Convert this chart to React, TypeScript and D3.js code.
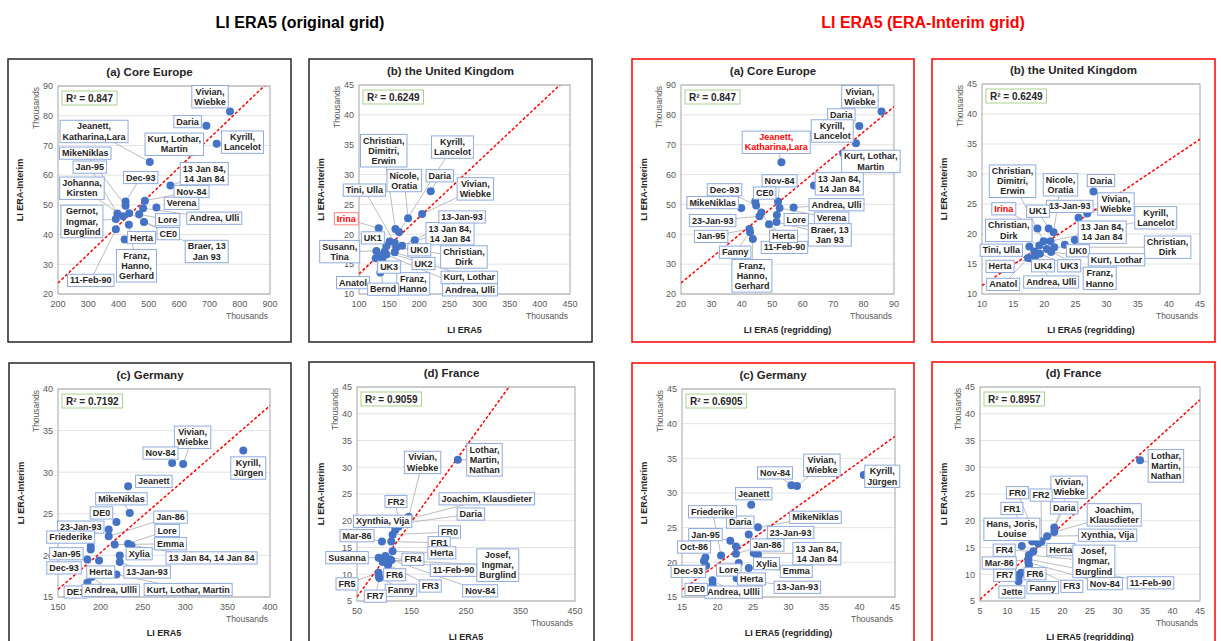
import React from "react";
import * as d3 from "d3";

const FONT = '"Liberation Sans", Arial, sans-serif';

// (a) Core Europe - LI ERA5 original grid (x) vs LI ERA-Interim (y), thousands
const coreX = [768, 690, 724, 638, 503, 571, 487, 423, 423, 396, 415, 391, 525, 481, 468, 435, 484, 420, 434, 391];
const coreY = [81.4, 76.6, 70.6, 67.6, 64.4, 56.5, 51.4, 51.1, 49.7, 47.1, 46.2, 45.2, 49.1, 48.9, 46.8, 47.2, 44.2, 38.3, 43.3, 41.8];
const coreNames = ["Vivian,\nWiebke", "Daria", "Kyrill,\nLancelot", "Kurt, Lothar,\nMartin", "Jeanett,\nKatharina,Lara", "13 Jan 84,\n14 Jan 84", "Nov-84", "Dec-93", "MikeNiklas", "Jan-95", "Johanna,\nKirsten", "Gernot,\nIngmar,\nBurglind", "Verena", "Andrea, Ulli", "Lore", "CE0", "Braer, 13\nJan 93", "Herta", "Franz,\nHanno,\nGerhard", "11-Feb-90"];
const coreLabelAt = [[702, 86.4], [628, 78.0], [809, 71.1], [584, 70.4], [319, 74.7], [683, 60.5], [641, 54.5], [473, 59.2], [290, 67.4], [305, 62.7], [279, 55.6], [279, 44.4], [608, 50.5], [716, 45.5], [562, 45.0], [564, 40.3], [691, 34.3], [476, 39.0], [459, 29.5], [308, 24.6]];
const coreLabelFor = coreNames.map((_, i) => i);

// (b) United Kingdom - original grid
const ukX = [219, 204.7, 181.4, 132.7, 160.4, 166.4, 192.5, 150.9, 159.2, 171.4, 161.8, 145.4, 128.8, 142.6, 159.2, 145.4, 127.7, 138.8, 135.4, 134];
const ukY = [27.2, 23.4, 22.7, 21.0, 20.9, 20.4, 19.0, 18.8, 18.6, 18.1, 17.8, 18.0, 17.2, 17.1, 17.0, 16.6, 16.0, 15.9, 13.6, 16.4];
const ukNames = ["Daria", "Vivian,\nWiebke", "Nicole,\nOratia", "Irina", "Christian,\nDimitri,\nErwin", "Kyrill,\nLancelot", "13 Jan 84,\n14 Jan 84", "UK1", "Tini, Ulla", "13-Jan-93", "UK0", "Christian,\nDirk", "Susann,\nTina", "UK2", "Kurt, Lothar", "Andrea, Ulli", "Anatol", "Franz,\nHanno", "UK3", "Bernd"];
const ukLabelAt = [[234, 29.8], [293, 27.6], [175, 29.0], [79, 22.6], [141, 34.0], [255, 34.6], [251, 20.1], [123, 19.4], [109, 27.4], [271, 22.9], [200, 17.4], [274, 16.2], [68, 17.1], [207, 15.1], [283, 12.8], [284, 10.7], [90, 11.9], [190, 11.7], [150, 14.5], [140, 10.8]];
const ukLabelFor = ukNames.map((_, i) => i);

// (a) Core Europe - regridded
const coreRX = [85.9, 78.6, 77.5, 73.3, 53.0, 63.7, 51.9, 44.4, 44.7, 39.8, 52.4, 57.0, 45.8, 46.4, 51.5, 51.4, 48.9, 42.5, 42.7, 43.6];
const coreRY = [81.1, 76.3, 70.5, 67.1, 64.1, 56.3, 51.0, 51.0, 49.6, 48.8, 48.8, 49.0, 46.0, 47.3, 46.5, 44.1, 43.4, 41.8, 40.7, 38.4];
const coreRNames = ["Vivian,\nWiebke", "Daria", "Kyrill,\nLancelot", "Kurt, Lothar,\nMartin", "Jeanett,\nKatharina,Lara", "13 Jan 84,\n14 Jan 84", "Nov-84", "CE0", "Dec-93", "MikeNiklas", "Verena", "Andrea, Ulli", "23-Jan-93", "11-Feb-90", "Lore", "Braer, 13\nJan 93", "Herta", "Jan-95", "Fanny", "Franz,\nHanno,\nGerhard"];
const coreRLabelAt = [[78.8, 86.1], [72.7, 80.0], [69.7, 74.6], [82.4, 64.4], [51.3, 70.8], [72.0, 56.9], [52.4, 57.9], [47.5, 53.8], [34.3, 54.9], [30.4, 50.6], [69.5, 45.4], [71.1, 49.9], [30.4, 44.6], [54.0, 35.6], [57.9, 44.9], [68.9, 39.8], [53.7, 39.3], [29.9, 39.3], [37.8, 34.0], [43.3, 26.1]];
const coreRLabelFor = coreRNames.map((_, i) => i);

// (b) United Kingdom - regridded
const ukRX = [27.9, 26.9, 25.5, 18.9, 20.7, 21.5, 24.9, 19.9, 21.0, 23.3, 21.6, 19.2, 17.6, 18.4, 21.1, 19.3, 17.4, 17.9, 20.4, 18.6];
const ukRY = [27.1, 23.4, 22.7, 20.9, 20.9, 20.3, 19.0, 18.8, 18.8, 18.2, 17.8, 18.1, 17.9, 17.1, 17.0, 16.7, 16.0, 15.9, 17.5, 16.4];
const ukRNames = ["Daria", "Vivian,\nWiebke", "13-Jan-93", "Irina", "UK1", "Nicole,\nOratia", "13 Jan 84,\n14 Jan 84", "Christian,\nDimitri,\nErwin", "Kyrill,\nLancelot", "UK0", "Christian,\nDirk", "Christian,\nDirk", "Tini, Ulla", "UK4", "Kurt, Lothar", "UK3", "Anatol", "Herta", "Franz,\nHanno", "Andrea, Ulli"];
const ukRLabelAt = [[29.1, 28.9], [31.5, 25.0], [24.1, 24.6], [13.5, 24.2], [19.0, 23.8], [22.6, 28.2], [29.3, 20.3], [14.9, 28.8], [37.9, 22.7], [25.4, 17.2], [39.8, 17.8], [14.3, 20.6], [13.1, 17.3], [19.8, 14.7], [31.6, 15.7], [24.0, 14.7], [13.4, 11.6], [12.9, 14.6], [28.9, 12.6], [21.1, 12.0]];
const ukRLabelFor = ukRNames.map((_, i) => i);

// (c) Germany - original grid
const deX = [368.5, 297.6, 284.6, 232.7, 234.6, 218.9, 209.8, 209.8, 188.6, 188.6, 184.6, 184.6, 232.7, 216.9, 222.8, 236.6, 198.4, 222.8, 218.9, 189.4];
const deY = [32.6, 31.0, 31.1, 28.3, 25.1, 24.0, 23.1, 22.3, 21.1, 20.7, 19.5, 16.7, 21.4, 21.3, 20.0, 21.2, 19.4, 19.2, 17.7, 17.4];
const deNames = ["Kyrill,\nJürgen", "Vivian,\nWiebke", "Nov-84", "Jeanett", "MikeNiklas", "DE0", "23-Jan-93", "Jan-86", "Friederike", "Jan-95", "Dec-93", "DE1", "Lore", "Emma", "Xylia", "13 Jan 84, 14 Jan 84", "Herta", "13-Jan-93", "Kurt, Lothar, Martin", "Andrea, Ullli"];
const deLabelAt = [[374.4, 30.5], [308.7, 34.2], [270.9, 32.3], [263.0, 28.9], [224.8, 26.8], [201.2, 25.1], [176.8, 23.4], [282.7, 24.6], [165.0, 22.2], [159.8, 20.2], [157.1, 18.5], [170.5, 15.6], [278.7, 23.0], [282.7, 21.4], [245.7, 20.2], [331.1, 19.7], [200.4, 18.0], [255.1, 18.0], [303.5, 15.9], [212.2, 15.8]];
const deLabelFor = deNames.map((_, i) => i);

// (d) France - original grid
const frX = [235.0, 144.7, 137.3, 132.4, 126.3, 120.2, 115.3, 112.9, 95.8, 115.3, 89.7, 108.0, 112.9, 101.9, 106.8, 89.7, 97.0, 89.7, 110.0, 90.9];
const frY = [31.4, 20.75, 20.1, 19.5, 18.9, 18.25, 17.4, 16.1, 16.1, 14.3, 13.1, 12.3, 12.6, 13.4, 11.7, 10.3, 12.3, 9.7, 12.8, 9.3];
const frNames = ["Lothar,\nMartin,\nNathan", "Vivian,\nWiebke", "Joachim, Klausdieter", "Daria", "FR2", "Xynthia, Vija", "FR0", "FR1", "Mar-86", "Herta", "Susanna", "FR4", "Josef,\nIngmar,\nBurglind", "11-Feb-90", "FR6", "FR5", "FR3", "Fanny", "Nov-84", "FR7"];
const frLabelAt = [[283.9, 31.4], [170.3, 30.9], [288.2, 24.1], [258.9, 21.25], [121.5, 23.6], [97.0, 19.9], [219.8, 17.9], [200.8, 15.9], [50.0, 17.2], [205.7, 14.0], [31.7, 13.1], [152.6, 12.8], [308.3, 11.7], [227.1, 10.75], [119.0, 9.9], [31.7, 8.2], [184.4, 7.8], [130.6, 7.0], [276.0, 6.9], [83.6, 5.9]];
const frLabelFor = frNames.map((_, i) => i);

// (c) Germany - regridded
const deRX = [40.6, 30.4, 31.2, 24.75, 25.7, 24.4, 21.8, 22.6, 22.6, 25.1, 25.7, 20.5, 18.3, 18.1, 18.4, 23.0, 24.4, 22.7, 19.3, 19.3];
const deRY = [32.6, 31.1, 31.0, 28.3, 25.05, 24.0, 23.1, 22.3, 21.25, 21.35, 21.1, 21.0, 20.7, 20.2, 19.5, 19.9, 19.2, 17.7, 17.4, 16.7];
const deRNames = ["Kyrill,\nJürgen", "Nov-84", "Vivian,\nWiebke", "Jeanett", "MikeNiklas", "Daria", "Jan-95", "23-Jan-93", "Jan-86", "13 Jan 84,\n14 Jan 84", "Xylia", "Friederike", "Oct-86", "Dec-93", "Lore", "Emma", "Herta", "13-Jan-93", "Andrea, Ullli", "DE0"];
const deRLabelAt = [[43.2, 32.4], [28.1, 32.9], [34.7, 34.0], [25.1, 29.9], [33.8, 26.5], [23.2, 25.8], [18.3, 24.0], [30.3, 24.3], [27.0, 22.5], [34.0, 21.25], [26.9, 19.8], [19.3, 27.3], [16.7, 22.2], [15.9, 18.7], [21.6, 18.9], [31.1, 18.7], [24.8, 17.6], [31.25, 16.4], [22.25, 15.7], [17.0, 16.1]];
const deRLabelFor = [0, 1, 2, 3, 4, 5, 6, 7, 8, 9, 10, 11, 12, 14, 15, 16, 17, 17, 18, 19];

// (d) France - regridded
const frRX = [34.1, 18.5, 18.5, 17.2, 16.2, 15.3, 14.5, 15.6, 12.6, 14.7, 13.9, 13.8, 13.8, 13.9, 12.5, 12.1, 12.0, 12.0];
const frRY = [31.3, 18.75, 17.9, 17.1, 16.1, 16.6, 16.1, 15.75, 15.3, 14.3, 13.6, 12.8, 12.2, 11.7, 10.3, 9.9, 9.3, 8.7];
const frRNames = ["Lothar,\nMartin,\nNathan", "Vivian,\nWiebke", "Daria", "Joachim,\nKlausdieter", "Xynthia, Vija", "FR0", "FR2", "FR1", "Hans, Joris,\nLouise", "Herta", "FR4", "Josef,\nIngmar,\nBurglind", "Mar-86", "FR6", "FR3", "Nov-84", "11-Feb-90", "FR7", "Fanny", "Jette"];
const frRLabelAt = [[38.8, 30.25], [21.2, 26.25], [20.3, 22.4], [29.4, 21.1], [28.2, 17.3], [11.8, 25.25], [16.1, 24.8], [10.8, 22.3], [10.8, 18.4], [19.7, 14.6], [9.4, 14.5], [25.7, 12.4], [8.5, 12.1], [15.0, 10.1], [21.7, 7.75], [27.7, 8.25], [36.0, 8.4], [9.5, 9.8], [16.4, 7.5], [10.8, 6.7]];
const frRLabelFor = [0, 1, 1, 2, 3, 5, 4, 6, 8, 7, 9, 10, 11, 12, 13, 12, 11, 14, 15, 17];

type Cfg = {
  id: string;
  title: string;
  red: boolean;
  box: number[];
  plot: number[];
  xDom: number[];
  xStep: number;
  yDom: number[];
  yStep: number;
  xTitle: string | null;
  r2: string;
  slope: number;
  intercept: number;
  xs: number[];
  ys: number[];
  names: string[];
  labelAt: number[][];
  labelFor: number[];
  redName?: string;
  redBorder?: boolean;
};

const panels: Cfg[] = [
  { id: "a", title: "(a) Core Europe", red: false, box: [8, 59, 283, 283], plot: [58, 86, 212, 208], xDom: [200, 900], xStep: 100, yDom: [20, 90], yStep: 10, xTitle: null, r2: "0.847", slope: 0.0974, intercept: 4.2, xs: coreX, ys: coreY, names: coreNames, labelAt: coreLabelAt, labelFor: coreLabelFor },
  { id: "b", title: "(b) the United Kingdom", red: false, box: [309, 59, 283, 283], plot: [359, 85, 211, 209], xDom: [100, 450], xStep: 50, yDom: [10, 45], yStep: 5, xTitle: "LI ERA5", r2: "0.6249", slope: 0.0949, intercept: 3.9, xs: ukX, ys: ukY, names: ukNames, labelAt: ukLabelAt, labelFor: ukLabelFor, redName: "Irina", redBorder: true },
  { id: "ar", title: "(a) Core Europe", red: true, box: [632, 59, 282, 283], plot: [681, 85, 213, 209], xDom: [20, 90], xStep: 10, yDom: [20, 90], yStep: 10, xTitle: "LI ERA5 (regridding)", r2: "0.847", slope: 0.843, intercept: 6.84, xs: coreRX, ys: coreRY, names: coreRNames, labelAt: coreRLabelAt, labelFor: coreRLabelFor, redName: "Jeanett,\nKatharina,Lara" },
  { id: "br", title: "(b) the United Kingdom", red: true, box: [932, 59, 283, 283], plot: [982, 84, 218, 210], xDom: [10, 45], xStep: 5, yDom: [10, 45], yStep: 5, xTitle: "LI ERA5 (regridding)", r2: "0.6249", slope: 0.697, intercept: 4.43, xs: ukRX, ys: ukRY, names: ukRNames, labelAt: ukRLabelAt, labelFor: ukRLabelFor, redName: "Irina" },
  { id: "c", title: "(c) Germany", red: false, box: [9, 363, 282, 292], plot: [58, 389, 212, 208], xDom: [150, 400], xStep: 50, yDom: [15, 40], yStep: 5, xTitle: "LI ERA5", r2: "0.7192", slope: 0.0884, intercept: 2.64, xs: deX, ys: deY, names: deNames, labelAt: deLabelAt, labelFor: deLabelFor },
  { id: "d", title: "(d) France", red: false, box: [309, 362, 285, 292], plot: [357, 387, 218, 214], xDom: [50, 450], xStep: 100, yDom: [5, 45], yStep: 5, xTitle: "LI ERA5", r2: "0.9059", slope: 0.1407, intercept: -1.28, xs: frX, ys: frY, names: frNames, labelAt: frLabelAt, labelFor: frLabelFor },
  { id: "cr", title: "(c) Germany", red: true, box: [632, 363, 282, 292], plot: [682, 389, 213, 208], xDom: [15, 45], xStep: 5, yDom: [15, 45], yStep: 5, xTitle: "LI ERA5 (regridding)", r2: "0.6905", slope: 0.737, intercept: 5.0, xs: deRX, ys: deRY, names: deRNames, labelAt: deRLabelAt, labelFor: deRLabelFor },
  { id: "dr", title: "(d) France", red: true, box: [932, 362, 283, 292], plot: [980, 387, 220, 214], xDom: [5, 45], xStep: 5, yDom: [5, 45], yStep: 5, xTitle: "LI ERA5 (regridding)", r2: "0.8957", slope: 0.9325, intercept: 0.64, xs: frRX, ys: frRY, names: frRNames, labelAt: frRLabelAt, labelFor: frRLabelFor },
];

const measureCtx = document.createElement("canvas").getContext("2d");
function textWidth(s: string, size: number, bold = true) {
  if (!measureCtx) return s.length * size * 0.55;
  measureCtx.font = `${bold ? "bold " : ""}${size}px ${FONT}`;
  return measureCtx.measureText(s).width;
}

const LBL = 9;
const LH = 10.2;

function Panel({ p }: { p: Cfg }) {
  const [bx, by, bw, bh] = p.box;
  const [px, py, pw, ph] = p.plot;
  const x = d3.scaleLinear().domain(p.xDom).range([px, px + pw]);
  const y = d3.scaleLinear().domain(p.yDom).range([py + ph, py]);
  const xTicks = d3.range(p.xDom[0], p.xDom[1] + p.xStep / 2, p.xStep);
  const yTicks = d3.range(p.yDom[0], p.yDom[1] + p.yStep / 2, p.yStep);
  const trend = d3
    .line<number>()
    .x((v) => x(v))
    .y((v) => y(p.slope * v + p.intercept))(p.xDom);

  // label boxes + leader lines from the box edge to the point
  const labels = p.names.map((name, i) => {
    const lines = name.split("\n");
    const w = d3.max(lines, (l) => textWidth(l, LBL))! + 5;
    const h = lines.length * LH + 2;
    const cx = x(p.labelAt[i][0]);
    const cy = y(p.labelAt[i][1]);
    const t = p.labelFor[i];
    const tx = x(p.xs[t]);
    const ty = y(p.ys[t]);
    const dx = tx - cx;
    const dy = ty - cy;
    const k = Math.min(dx === 0 ? Infinity : w / 2 / Math.abs(dx), dy === 0 ? Infinity : h / 2 / Math.abs(dy));
    let leader: number[] | null = null;
    if (k < 1) {
      const sx = cx + dx * k;
      const sy = cy + dy * k;
      if (Math.hypot(tx - sx, ty - sy) > 8) leader = [sx, sy, tx, ty];
    }
    const isRed = p.redName === name;
    return { name, lines, w, h, cx, cy, leader, isRed };
  });

  const r2Text = `R² = ${p.r2}`;
  const r2W = textWidth(r2Text, 10) + 8;
  const stroke = p.red ? "#ff0000" : "#262626";

  return (
    <g>
      <rect x={bx} y={by} width={bw} height={bh} fill="white" stroke={stroke} strokeWidth={1.5} />
      <text x={bx + bw / 2} y={py - 10} textAnchor="middle" fontSize={11.5} fontWeight="bold" fill="#262626">
        {p.title}
      </text>
      <clipPath id={`clip-${p.id}`}>
        <rect x={px} y={py} width={pw} height={ph} />
      </clipPath>
      {yTicks.map((v) => (
        <line key={`g${v}`} x1={px} x2={px + pw} y1={y(v)} y2={y(v)} stroke="#d9d9d9" strokeWidth={0.75} />
      ))}
      <rect x={px} y={py} width={pw} height={ph} fill="none" stroke="#a6a6a6" strokeWidth={1} />
      {yTicks.map((v) => (
        <text key={`y${v}`} x={px - 5} y={y(v) + 3.3} textAnchor="end" fontSize={9} fill="#595959">
          {v}
        </text>
      ))}
      {xTicks.map((v) => (
        <text key={`x${v}`} x={x(v)} y={py + ph + 13} textAnchor="middle" fontSize={9} fill="#595959">
          {v}
        </text>
      ))}
      <text x={px + pw - 2} y={py + ph + 25} textAnchor="end" fontSize={8.5} fill="#595959">
        Thousands
      </text>
      <text transform={`translate(${px - 19},${py + 1}) rotate(-90)`} textAnchor="end" fontSize={8.5} fill="#595959">
        Thousands
      </text>
      <text transform={`translate(${bx + 15},${py + ph / 2}) rotate(-90)`} textAnchor="middle" fontSize={9} fontWeight="bold" fill="#262626">
        LI ERA-Interim
      </text>
      {p.xTitle && (
        <text x={px + pw / 2} y={py + ph + 39} textAnchor="middle" fontSize={9} fontWeight="bold" fill="#262626">
          {p.xTitle}
        </text>
      )}
      {labels.map((l, i) =>
        l.leader ? (
          <line key={`l${i}`} x1={l.leader[0]} y1={l.leader[1]} x2={l.leader[2]} y2={l.leader[3]} stroke="#a6a6a6" strokeWidth={0.75} />
        ) : null
      )}
      <path d={trend ?? ""} fill="none" stroke="#ff0000" strokeWidth={1.5} strokeDasharray="3,2" clipPath={`url(#clip-${p.id})`} />
      {p.xs.map((v, i) => (
        <circle key={`p${i}`} cx={x(v)} cy={y(p.ys[i])} r={4} fill="#4472c4" />
      ))}
      {labels.map((l, i) => (
        <g key={`b${i}`}>
          <rect
            x={l.cx - l.w / 2}
            y={l.cy - l.h / 2}
            width={l.w}
            height={l.h}
            fill="white"
            stroke={l.isRed && p.redBorder ? "#ff8080" : "#8faadc"}
            strokeWidth={1}
          />
          {l.lines.map((line, j) => (
            <text
              key={j}
              x={l.cx}
              y={l.cy - l.h / 2 + 1 + LH * j + LH * 0.8}
              textAnchor="middle"
              fontSize={LBL}
              fontWeight="bold"
              fill={l.isRed ? "#ff0000" : "#262626"}
            >
              {line}
            </text>
          ))}
        </g>
      ))}
      <rect x={px + 4} y={py + 5} width={r2W} height={14} fill="white" stroke="#a9d18e" strokeWidth={1} />
      <text x={px + 8} y={py + 15.5} fontSize={10} fontWeight="bold" fill="#262626">
        {r2Text}
      </text>
    </g>
  );
}

export default function App() {
  return (
    <svg
      width={1221}
      height={641}
      style={{ position: "absolute", left: 0, top: 0, background: "white" }}
      fontFamily={FONT}
    >
      <rect width={1221} height={641} fill="white" />
      <text x={300} y={28} textAnchor="middle" fontSize={16} fontWeight="bold" fill="#000">
        LI ERA5 (original grid)
      </text>
      <text x={923} y={28} textAnchor="middle" fontSize={16} fontWeight="bold" fill="#ff0000">
        LI ERA5 (ERA-Interim grid)
      </text>
      {panels.map((p) => (
        <Panel key={p.id} p={p} />
      ))}
    </svg>
  );
}
